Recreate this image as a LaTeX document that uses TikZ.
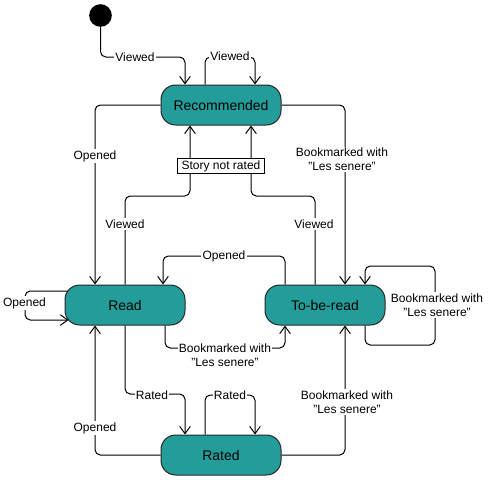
\documentclass[tikz,border=0pt]{standalone}
\usepackage{fontspec}
\setmainfont{Liberation Sans}
\usetikzlibrary{arrows.meta,calc}
\definecolor{teal}{RGB}{35,157,153}
\begin{document}
\begin{tikzpicture}[x=0.75pt,y=-0.75pt,
  state/.style={draw=black!85,fill=teal,rounded corners=11pt,minimum width=90pt,minimum height=30pt,inner sep=0pt,font=\fontsize{10.5}{12}\selectfont,line width=0.75pt},
  edge/.style={draw=black,line width=0.75pt,rounded corners=4pt,-{Straight Barb[length=5.5pt,width=8pt,line width=0.75pt]}},
  lbl/.style={fill=white,inner sep=1pt,font=\fontsize{9}{10.5}\selectfont,align=center},
  notebox/.style={draw=black,fill=white,line width=0.75pt,inner xsep=3pt,inner ysep=1.5pt,font=\fontsize{9}{10.5}\selectfont}]
\useasboundingbox (0,0) rectangle (491,479);
\node[circle,fill=black,minimum size=17pt,inner sep=0pt] (init) at (100.5,15.5) {};
\node[state] (rec) at (221,105) {Recommended};
\node[state] (read) at (125,305) {Read};
\node[state] (tbr) at (325,305) {To-be-read};
\node[state] (rated) at (221,455) {Rated};
% edges
\draw[edge] (init.south) |- (185,57) -- ($(rec.north)+(-36,0)$);
\draw[edge] ($(rec.north)+(-16,0)$) |- (255,57) -- ($(rec.north)+(34,0)$);
\draw[edge] (rec.west) -| ($(read.north)+(-30,0)$);
\draw[edge] (rec.east) -| ($(tbr.north)+(20,0)$);
\draw[edge] (read.north) |- (190,196) -- ($(rec.south)+(-31,0)$);
\draw[edge] ($(tbr.north)+(-10,0)$) |- (251,196) -- ($(rec.south)+(30,0)$);
\draw[edge] ($(tbr.north)+(-40,0)$) |- (163,256) -- ($(read.north)+(38,0)$);
\draw[edge] ($(read.west)+(3,-14)$) -- (25,291) -- (25,320) -- ($(read.west)+(4,15)$);
\draw[edge] ($(read.south)+(40,0)$) |- (285,348) -- ($(tbr.south)+(-40,0)$);
\draw[edge] (read.south) |- (185,394) -- ($(rated.north)+(-36,0)$);
\draw[edge] ($(rated.north)+(-16,0)$) |- (255,395) -- ($(rated.north)+(34,0)$);
\draw[edge] (rated.west) -| ($(read.south)+(-30,0)$);
\draw[edge] (rated.east) -| ($(tbr.south)+(20,0)$);
\draw[edge] ($(tbr.south)+(40,0)$) |- (435,345) |- (365,266) -- ($(tbr.north)+(40,0)$);
% labels
\node[lbl] (l1) at (135,57) {Viewed};
\node[lbl] (l2) at (230,56) {Viewed};
\node[lbl] (l3) at (95,156) {Opened};
\node[lbl] (l4) at (342,159.5) {Bookmarked with\\"Les senere"};
\node[notebox] (snr) at (221,166) {Story not rated};
\node[lbl] (l5) at (125,224) {Viewed};
\node[lbl] (l6) at (314,224) {Viewed};
\node[lbl] (l7) at (224,256) {Opened};
\node[lbl] (l8) at (24.5,303) {Opened};
\node[lbl] (l9) at (225,355) {Bookmarked with\\"Les senere"};
\node[lbl] (l10) at (437,305) {Bookmarked with\\"Les senere"};
\node[lbl] (l11) at (152,395) {Rated};
\node[lbl] (l12) at (230,395) {Rated};
\node[lbl] (l13) at (95,428) {Opened};
\node[lbl] (l14) at (347,402) {Bookmarked with\\"Les senere"};
\end{tikzpicture}
\end{document}
